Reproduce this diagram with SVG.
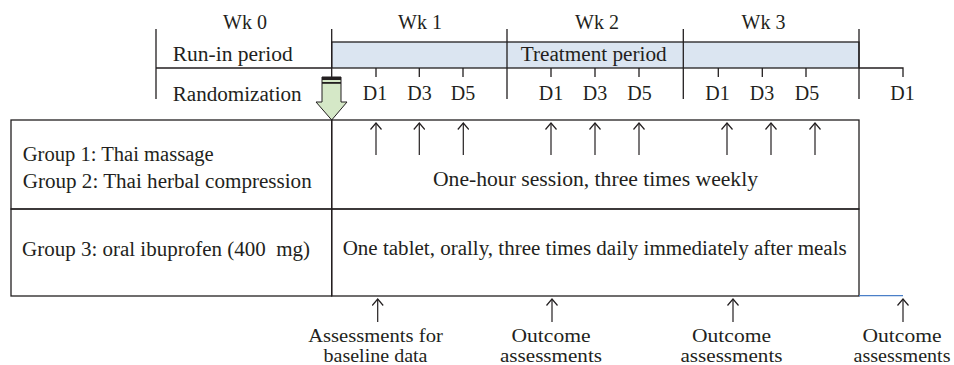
<svg xmlns="http://www.w3.org/2000/svg" width="954" height="365" viewBox="0 0 954 365">
<defs>
<style>
text{font-family:"Liberation Serif","Times New Roman",serif;font-size:20px;fill:#231f20}
.mid{text-anchor:middle}
.lbl{font-size:18.5px;text-anchor:middle}
.ln{stroke:#231f20;stroke-width:1.3;fill:none}
.arr{stroke:#231f20;stroke-width:1.2;fill:none;marker-end:url(#ah)}
</style>
<marker id="ah" viewBox="0 0 12 12" refX="11" refY="6" markerWidth="12" markerHeight="12" markerUnits="userSpaceOnUse" orient="auto">
<path d="M4.5,0.5 L11,6 L4.5,11.5" fill="none" stroke="#231f20" stroke-width="1.2"/>
</marker>
</defs>
<rect width="954" height="365" fill="#ffffff"/>

<g id="timeline">
<rect id="treatment-bar" x="331.7" y="42" width="527.3" height="26" fill="#dbe5f1" stroke="#231f20" stroke-width="1.3"/>
<path class="ln" d="M156,29 V99 M156,68 H331.7 M331.7,29 V77 M507,29 V99 M683.3,29 V99 M859,29 V99 M859,68 H903 V77"/>
<path class="ln" d="M376,68 V77 M419.3,68 V77 M463,68 V77 M551,68 V77 M595,68 V77 M639,68 V77 M718.3,68 V77 M762.3,68 V77 M806,68 V77"/>
<text class="mid" x="245" y="29">Wk 0</text>
<text class="mid" x="420" y="29">Wk 1</text>
<text class="mid" x="597" y="29">Wk 2</text>
<text class="mid" x="763.5" y="29">Wk 3</text>
<text x="172.7" y="60.5" textLength="120" lengthAdjust="spacingAndGlyphs">Run-in period</text>
<text x="520.7" y="60.5" textLength="146" lengthAdjust="spacingAndGlyphs">Treatment period</text>
<text x="172.7" y="101" textLength="129" lengthAdjust="spacingAndGlyphs">Randomization</text>
<text class="mid" x="375" y="100">D1</text>
<text class="mid" x="419.5" y="100">D3</text>
<text class="mid" x="463" y="100">D5</text>
<text class="mid" x="551" y="100">D1</text>
<text class="mid" x="595" y="100">D3</text>
<text class="mid" x="639.5" y="100">D5</text>
<text class="mid" x="717.5" y="100">D1</text>
<text class="mid" x="762" y="100">D3</text>
<text class="mid" x="807" y="100">D5</text>
<text class="mid" x="902.5" y="100">D1</text>
</g>

<g id="randomization-arrow">
<path d="M322,77 H341 V102 H347 L331.7,120 L316,102 H322 Z" fill="#d5e8c7" stroke="#231f20" stroke-width="1"/>
<rect x="322" y="77" width="19" height="3" fill="#231f20"/>
<rect x="322" y="82" width="19" height="1.8" fill="#231f20"/>
</g>

<g id="groups-1-2">
<rect x="11" y="120" width="320.7" height="89" fill="none" class="ln"/>
<text x="22.7" y="161" textLength="191" lengthAdjust="spacingAndGlyphs">Group 1: Thai massage</text>
<text x="22.7" y="188.3" textLength="289" lengthAdjust="spacingAndGlyphs">Group 2: Thai herbal compression</text>
</g>
<g id="session">
<rect x="331.7" y="120" width="527.3" height="89" fill="none" class="ln"/>
<text x="433" y="186" textLength="325" lengthAdjust="spacingAndGlyphs">One-hour session, three times weekly</text>
</g>
<g id="group-3">
<rect x="11" y="209" width="320.7" height="87" fill="none" class="ln"/>
<text x="22" y="256" textLength="288" lengthAdjust="spacingAndGlyphs" xml:space="preserve">Group 3: oral ibuprofen (400  mg)</text>
</g>
<g id="tablet">
<rect x="331.7" y="209" width="527.3" height="87" fill="none" class="ln"/>
<text x="342.7" y="255" textLength="504" lengthAdjust="spacingAndGlyphs">One tablet, orally, three times daily immediately after meals</text>
</g>

<g id="assessment-labels">
<text class="lbl" x="375.5" y="342" textLength="134.7" lengthAdjust="spacingAndGlyphs">Assessments for</text>
<text class="lbl" x="375.5" y="361.5" textLength="104" lengthAdjust="spacingAndGlyphs">baseline data</text>
<text class="lbl" x="551" y="342" textLength="79" lengthAdjust="spacingAndGlyphs">Outcome</text>
<text class="lbl" x="551" y="361.5" textLength="102" lengthAdjust="spacingAndGlyphs">assessments</text>
<text class="lbl" x="731.5" y="342" textLength="79" lengthAdjust="spacingAndGlyphs">Outcome</text>
<text class="lbl" x="731.5" y="361.5" textLength="102" lengthAdjust="spacingAndGlyphs">assessments</text>
<text class="lbl" x="902" y="342" textLength="79" lengthAdjust="spacingAndGlyphs">Outcome</text>
<text class="lbl" x="902" y="361.5" textLength="97" lengthAdjust="spacingAndGlyphs">assessments</text>
</g>

<g id="connectors">
<path class="arr" d="M376,155 V123"/>
<path class="arr" d="M419.3,155 V123"/>
<path class="arr" d="M463.3,155 V123"/>
<path class="arr" d="M551,155 V123"/>
<path class="arr" d="M595,155 V123"/>
<path class="arr" d="M639,155 V123"/>
<path class="arr" d="M727,155 V123"/>
<path class="arr" d="M771,155 V123"/>
<path class="arr" d="M815,155 V123"/>
<path class="arr" d="M377.7,322 V299"/>
<path class="arr" d="M552,322 V299"/>
<path class="arr" d="M733,322 V299"/>
<path class="arr" d="M903,322 V299"/>
<path d="M859,295.7 H903" stroke="#4a7fc8" stroke-width="1.3" fill="none"/>
</g>
</svg>
